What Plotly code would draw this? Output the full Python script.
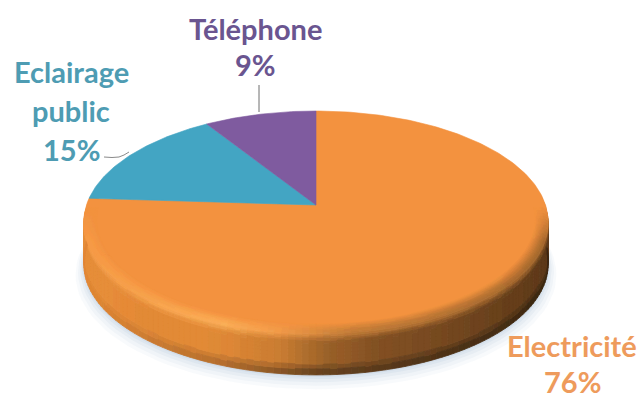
import numpy as np
import plotly.graph_objects as go

# Pie contents
categories = ["Electricité", "Eclairage public", "Téléphone"]
values = [76, 15, 9]
slice_colors = ["#F3923F", "#43A5C3", "#7F5B9F"]
text_colors = ["#EE9B5C", "#4E9CB3", "#6A5590"]

# Perspective disc: apex position, scale and foreshortening
APEX_X, APEX_Y = 316.0, 205.0
SCALE_X, SCALE_Y = 229.5, 108.0
TILT = 0.149
DEPTH = 43.0


def project(angle_deg, radius=1.0, drop=0.0):
    """Clockwise angle from twelve o'clock on the disc to plot coordinates."""
    a = np.radians(angle_deg)
    dx, dy = radius * np.sin(a), radius * np.cos(a)
    den = 1 + TILT * dy
    return APEX_X + SCALE_X * dx / den, APEX_Y - SCALE_Y * dy / den + drop


def mix(c1, c2, t):
    t = float(np.clip(t, 0, 1))
    return tuple(a + (b - a) * t for a, b in zip(c1, c2))


def rgb(h):
    return tuple(int(h[i:i + 2], 16) for i in (1, 3, 5))


def ramp(h, stops):
    xs = [s[0] for s in stops]
    return tuple(np.interp(h, xs, [rgb(s[1])[i] for s in stops]) for i in range(3))


FACE = rgb(slice_colors[0])
WALL_STOPS = [(0.0, "#E78D39"), (0.3, "#DF8835"), (0.42, "#C97C31"), (0.52, "#9C6129"),
              (0.62, "#845123"), (0.78, "#74471F"), (1.0, "#5E3A18")]
EDGE_STOPS = [(0.0, "#E08633"), (0.3, "#A9682C"), (0.5, "#5A3A1C"), (1.0, "#33230F")]
GLOW_STOPS = [(0.0, "#F59A45"), (0.3, "#FBAE57"), (0.42, "#F29A48"), (0.58, "#C07A36"), (1.0, "#A0652C")]

# Rim profile: shading coordinate to radius on the disc and drop below it
PROFILE_S = np.array([-1.0, -0.6, -0.25, 0.0, 0.2, 0.45, 0.65, 0.85, 0.95, 1.0])
PROFILE_R = np.array([0.945, 0.967, 0.985, 1.0, 1.0, 1.0, 1.0, 1.0, 1.0, 1.0])
PROFILE_Z = np.array([0, 0, 0, 2, 7, 15, 24, 33, 39, DEPTH])
BAND_S = np.concatenate([np.linspace(-1, 0, 11)[:-1], np.linspace(0, 1, 13)])


def rim_color(x, s, fade):
    h = (x - 84) / (549 - 84)
    wall = ramp(h, WALL_STOPS)
    glow = ramp(h, GLOW_STOPS)
    if s >= 0:
        c = mix(glow, wall, s / 0.3)
        if s > 0.8:
            c = mix(c, ramp(h, EDGE_STOPS), (s - 0.8) / 0.2)
        return c
    return mix(FACE, glow, (1 + s) * fade)


fig = go.Figure()

# Soft shadow spreading out under the disc
for spread, drop, alpha in [(1.035, DEPTH + 9, 0.05), (1.025, DEPTH + 7, 0.06), (1.015, DEPTH + 5, 0.07),
                            (1.008, DEPTH + 3, 0.08), (1.003, DEPTH + 1.5, 0.10)]:
    sweep = np.arange(0, 361, 3)
    sx, sy = project(sweep, spread, drop)
    fig.add_trace(go.Scatter(x=sx, y=sy, mode="lines", fill="toself", line=dict(width=0),
                             fillcolor=f"rgba(120,150,190,{alpha})", hoverinfo="skip", showlegend=False))

# Side wall and bevel, collected into one polygon list per quantised colour
quads = {}
steps = np.arange(78, 282.5, 1.5)
radii = np.interp(BAND_S, PROFILE_S, PROFILE_R)
drops = np.interp(BAND_S, PROFILE_S, PROFILE_Z)
for a0, a1 in zip(steps[:-1], steps[1:]):
    amid = (a0 + a1) / 2
    # the bevel dies away toward the back of the disc
    fade = float(np.clip((-np.cos(np.radians(amid)) - 0.02) / 0.3, 0, 1))
    for i in range(len(BAND_S) - 1):
        s0, s1 = BAND_S[i], BAND_S[i + 1]
        if s1 <= 0 and fade == 0:
            continue
        x00, y00 = project(a0, radii[i], drops[i])
        x01, y01 = project(a1, radii[i], drops[i])
        x11, y11 = project(a1, radii[i + 1], drops[i + 1])
        x10, y10 = project(a0, radii[i + 1], drops[i + 1])
        c = rim_color((x00 + x01) / 2, (s0 + s1) / 2, fade)
        key = tuple(int(v // 4 * 4 + 2) for v in c)
        quads.setdefault((bool(s1 <= 0), key), []).append(([x00, x01, x11, x10, x00, None],
                                                           [y00, y01, y11, y10, y00, None]))


def add_quads(on_face):
    for (flag, key), polys in quads.items():
        if flag != on_face:
            continue
        color = f"rgb({key[0]},{key[1]},{key[2]})"
        xs = sum((p[0] for p in polys), [])
        ys = sum((p[1] for p in polys), [])
        fig.add_trace(go.Scatter(x=xs, y=ys, mode="lines", fill="toself", fillcolor=color,
                                 line=dict(color=color, width=0.8), hoverinfo="skip", showlegend=False))


add_quads(False)

# Top face, one wedge per category, running clockwise from twelve o'clock
start = 0.0
total = sum(values)
for name, val, col in zip(categories, values, slice_colors):
    sweep_deg = 360.0 * val / total
    arc = np.linspace(start, start + sweep_deg, max(int(sweep_deg), 2) + 1)
    ax, ay = project(arc)
    fig.add_trace(go.Scatter(x=[APEX_X, *ax, APEX_X], y=[APEX_Y, *ay, APEX_Y], mode="lines", fill="toself",
                             fillcolor=col, line=dict(color=col, width=0.6), name=name,
                             hoverinfo="name", showlegend=False))
    start += sweep_deg

add_quads(True)

# Leader lines
fig.add_trace(go.Scatter(x=[259, 259], y=[85, 112], mode="lines", line=dict(color="#6f6f6f", width=1),
                         hoverinfo="skip", showlegend=False))
fig.add_trace(go.Scatter(x=[104, 112, 119, 124, 129], y=[157, 157.5, 157, 155, 152], mode="lines",
                         line=dict(color="#8a8a8a", width=1), hoverinfo="skip", showlegend=False))

# Data labels, line by line
label_lines = [
    (["Electricité", f"{values[0]}%"], text_colors[0], 572, [345, 381]),
    (["Eclairage", "public", f"{values[1]}%"], text_colors[1], 71, [71, 110, 149]),
    (["Téléphone", f"{values[2]}%"], text_colors[2], 255, [28, 64]),
]
for lines, color, cx, rows in label_lines:
    for line, row in zip(lines, rows):
        fig.add_annotation(x=cx, y=row, text=f"<b>{line}</b>", showarrow=False, xanchor="center",
                           yanchor="middle", font=dict(family="Lato", size=29, color=color))

fig.update_layout(
    width=640, height=399, margin=dict(l=0, r=0, t=0, b=0),
    paper_bgcolor="white", plot_bgcolor="white", showlegend=False,
    xaxis=dict(range=[0, 640], visible=False, fixedrange=True),
    yaxis=dict(range=[399, 0], visible=False, fixedrange=True),
)
fig.write_html("out.html", config=dict(displayModeBar=False))
